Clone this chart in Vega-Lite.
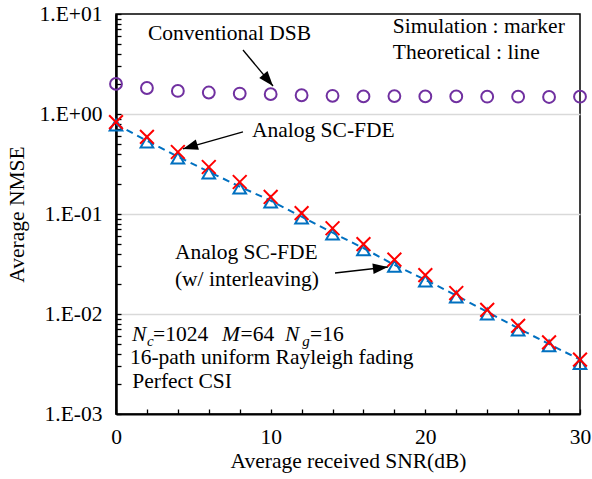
{
  "$schema": "https://vega.github.io/schema/vega-lite/v6.json",
  "width": 464,
  "height": 400,
  "autosize": {"type": "none"},
  "padding": {"left": 116, "top": 14, "right": 12, "bottom": 65},
  "config": {
    "font": "Liberation Serif",
    "view": {"stroke": "#000000", "strokeWidth": 1.5},
    "axis": {"labelFont": "Liberation Serif", "titleFont": "Liberation Serif", "labelColor": "#000", "titleColor": "#000", "labelFontSize": 21.5, "titleFontSize": 21.5, "titleFontWeight": "normal"}
  },
  "datasets": {
    "theory": [
      {"x": 0, "y": 0.79}, {"x": 2, "y": 0.54}, {"x": 4, "y": 0.375}, {"x": 6, "y": 0.265},
      {"x": 8, "y": 0.188}, {"x": 10, "y": 0.136}, {"x": 12, "y": 0.094}, {"x": 14, "y": 0.065},
      {"x": 16, "y": 0.0455}, {"x": 18, "y": 0.031}, {"x": 20, "y": 0.022}, {"x": 22, "y": 0.0153},
      {"x": 24, "y": 0.0105}, {"x": 26, "y": 0.0072}, {"x": 28, "y": 0.005}, {"x": 30, "y": 0.0035}
    ],
    "tri": [
      {"x": 0, "y": 0.776}, {"x": 2, "y": 0.525}, {"x": 4, "y": 0.363}, {"x": 6, "y": 0.257},
      {"x": 8, "y": 0.182}, {"x": 10, "y": 0.132}, {"x": 12, "y": 0.091}, {"x": 14, "y": 0.063},
      {"x": 16, "y": 0.044}, {"x": 18, "y": 0.030}, {"x": 20, "y": 0.0214}, {"x": 22, "y": 0.0148},
      {"x": 24, "y": 0.0100}, {"x": 26, "y": 0.0069}, {"x": 28, "y": 0.0048}, {"x": 30, "y": 0.0032}
    ],
    "cross": [
      {"x": 0, "y": 0.83}, {"x": 2, "y": 0.59}, {"x": 4, "y": 0.417}, {"x": 6, "y": 0.295},
      {"x": 8, "y": 0.209}, {"x": 10, "y": 0.148}, {"x": 12, "y": 0.102}, {"x": 14, "y": 0.072},
      {"x": 16, "y": 0.050}, {"x": 18, "y": 0.035}, {"x": 20, "y": 0.0245}, {"x": 22, "y": 0.0162},
      {"x": 24, "y": 0.0110}, {"x": 26, "y": 0.0076}, {"x": 28, "y": 0.0052}, {"x": 30, "y": 0.0035}
    ],
    "dsb": [
      {"x": 0, "y": 2.0}, {"x": 2, "y": 1.82}, {"x": 4, "y": 1.7}, {"x": 6, "y": 1.64},
      {"x": 8, "y": 1.6}, {"x": 10, "y": 1.58}, {"x": 12, "y": 1.54}, {"x": 14, "y": 1.52},
      {"x": 16, "y": 1.5}, {"x": 18, "y": 1.51}, {"x": 20, "y": 1.5}, {"x": 22, "y": 1.5},
      {"x": 24, "y": 1.49}, {"x": 26, "y": 1.49}, {"x": 28, "y": 1.48}, {"x": 30, "y": 1.49}
    ],
    "arrows": [
      {"x": 8.21, "y": 4.365, "x2": 10.15, "y2": 1.905, "angle": 140.2},
      {"x": 8.21, "y": 0.661, "x2": 4.33, "y2": 0.447, "angle": -106.7},
      {"x": 14.16, "y": 0.0257, "x2": 17.58, "y2": 0.0295, "angle": 83.5}
    ],
    "labels": [
      {"x": 2.07, "y": 5.5, "label": "Conventional DSB"},
      {"x": 17.9, "y": 6.46, "label": "Simulation : marker"},
      {"x": 17.9, "y": 3.55, "label": "Theoretical : line"},
      {"x": 8.79, "y": 0.589, "label": "Analog SC-FDE"},
      {"x": 3.81, "y": 0.0355, "label": "Analog SC-FDE"},
      {"x": 3.81, "y": 0.0192, "label": "(w/ interleaving)"},
      {"x": 2.4, "y": 0.0054, "label": "=1024"},
      {"x": 8.05, "y": 0.0054, "label": "=64"},
      {"x": 12.55, "y": 0.0054, "label": "=16"},
      {"x": 0.9, "y": 0.00316, "label": "16-path uniform Rayleigh fading"},
      {"x": 1.05, "y": 0.00182, "label": "Perfect CSI"}
    ],
    "italic": [
      {"x": 1.03, "y": 0.0054, "label": "N"},
      {"x": 6.85, "y": 0.0054, "label": "M"},
      {"x": 10.92, "y": 0.0054, "label": "N"}
    ],
    "subs": [
      {"x": 2.0, "y": 0.0048, "label": "c"},
      {"x": 12.05, "y": 0.0048, "label": "g"}
    ]
  },
  "encoding": {
    "x": {
      "field": "x", "type": "quantitative",
      "scale": {"domain": [0, 30], "nice": false, "zero": false},
      "axis": {
        "title": "Average received SNR(dB)",
        "values": [0, 2, 4, 6, 8, 10, 12, 14, 16, 18, 20, 22, 24, 26, 28, 30],
        "labelExpr": "datum.value % 10 === 0 ? datum.value : ''",
        "grid": false,
        "domainColor": "#000", "domainWidth": 2,
        "tickColor": "#000", "tickWidth": 1.3, "tickSize": -5,
        "labelPadding": 17, "titlePadding": 3, "labelFlush": false
      }
    },
    "y": {
      "field": "y", "type": "quantitative",
      "scale": {"type": "log", "domain": [0.001, 10], "nice": false},
      "axis": {
        "title": "Average NMSE",
        "values": [0.001, 0.002, 0.003, 0.004, 0.005, 0.006, 0.007, 0.008, 0.009, 0.01, 0.02, 0.03, 0.04, 0.05, 0.06, 0.07, 0.08, 0.09, 0.1, 0.2, 0.3, 0.4, 0.5, 0.6, 0.7, 0.8, 0.9, 1, 2, 3, 4, 5, 6, 7, 8, 9, 10],
        "labelExpr": "abs(log(datum.value)/LN10 - round(log(datum.value)/LN10)) < 0.001 ? '1.E' + (round(log(datum.value)/LN10) >= 0 ? '+' : '-') + '0' + abs(round(log(datum.value)/LN10)) : ''",
        "grid": true,
        "gridColor": "#d9d9d9", "gridWidth": 1.5,
        "gridOpacity": {"condition": {"test": "datum.value > 0.005 && datum.value < 5 && abs(log(datum.value)/LN10 - round(log(datum.value)/LN10)) < 0.001", "value": 1}, "value": 0},
        "domainColor": "#000", "domainWidth": 2.5,
        "tickColor": "#000", "tickWidth": 1.3, "tickSize": -5,
        "labelPadding": 19, "titlePadding": 11, "labelFlush": false
      }
    }
  },
  "layer": [
    {"data": {"name": "theory"}, "mark": {"type": "line", "color": "#0070C0", "strokeWidth": 2, "strokeDash": [7, 5]}},
    {"data": {"name": "tri"}, "mark": {"type": "point", "shape": "triangle-up", "filled": false, "stroke": "#0070C0", "strokeWidth": 2, "size": 160, "opacity": 1}},
    {"data": {"name": "cross"}, "mark": {"type": "point", "shape": "M-1,-1L1,1M1,-1L-1,1", "filled": false, "stroke": "#FF0000", "strokeWidth": 2, "size": 190, "opacity": 1}},
    {"data": {"name": "dsb"}, "mark": {"type": "point", "shape": "circle", "filled": false, "stroke": "#7030A0", "strokeWidth": 2, "size": 140, "opacity": 1}},
    {"data": {"name": "arrows"}, "mark": {"type": "rule", "color": "#000", "strokeWidth": 1.3}, "encoding": {"x2": {"field": "x2"}, "y2": {"field": "y2"}}},
    {"data": {"name": "arrows"}, "mark": {"type": "point", "shape": "M0,0L-0.5,1.4L0.5,1.4Z", "filled": true, "fill": "#000", "stroke": null, "size": 460, "opacity": 1},
      "encoding": {"x": {"field": "x2", "type": "quantitative"}, "y": {"field": "y2", "type": "quantitative"}, "angle": {"field": "angle", "type": "quantitative", "scale": null}}},
    {"data": {"name": "labels"}, "mark": {"type": "text", "align": "left", "baseline": "alphabetic", "fontSize": 21.5, "font": "Liberation Serif", "color": "#000"}, "encoding": {"text": {"field": "label"}}},
    {"data": {"name": "italic"}, "mark": {"type": "text", "align": "left", "baseline": "alphabetic", "fontSize": 21.5, "fontStyle": "italic", "font": "Liberation Serif", "color": "#000"}, "encoding": {"text": {"field": "label"}}},
    {"data": {"name": "subs"}, "mark": {"type": "text", "align": "left", "baseline": "alphabetic", "fontSize": 15, "fontStyle": "italic", "font": "Liberation Serif", "color": "#000"}, "encoding": {"text": {"field": "label"}}}
  ]
}
